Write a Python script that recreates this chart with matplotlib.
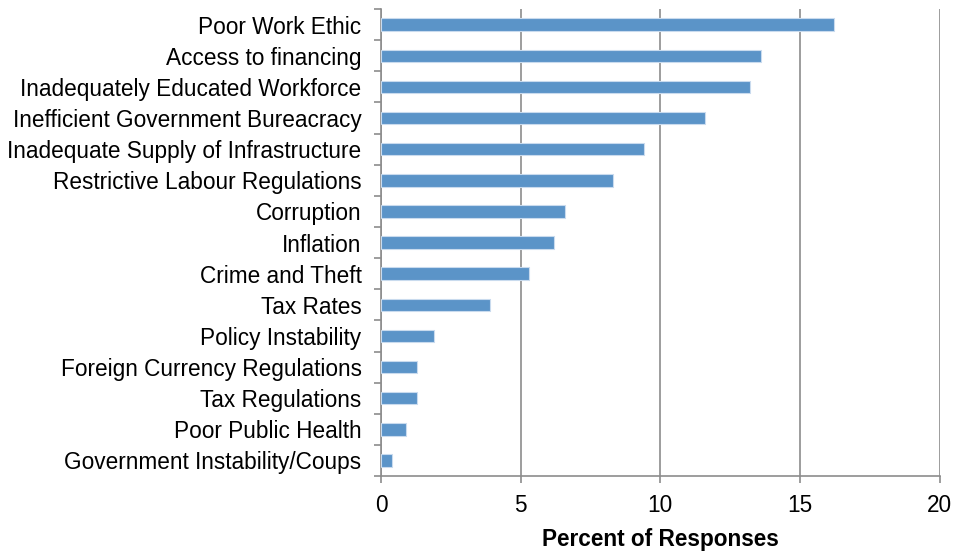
import numpy as np
import matplotlib.pyplot as plt
plt.rcParams['font.family'] = ['Liberation Sans', 'DejaVu Sans']
plt.rcParams['font.size'] = 16.3

factors = ['Poor Work Ethic', 'Access to financing', 'Inadequately Educated Workforce',
           'Inefficient Government Bureacracy', 'Inadequate Supply of Infrastructure',
           'Restrictive Labour Regulations', 'Corruption', 'Inflation', 'Crime and Theft',
           'Tax Rates', 'Policy Instability', 'Foreign Currency Regulations',
           'Tax Regulations', 'Poor Public Health', 'Government Instability/Coups']
percent = [16.2, 13.6, 13.2, 11.6, 9.4, 8.3, 6.6, 6.2, 5.3, 3.9, 1.9, 1.3, 1.3, 0.9, 0.4]

fig = plt.figure(figsize=(9.56, 5.51), dpi=100)
ax = fig.add_axes([0.3985, 0.136, 0.5845, 0.8475])
y = np.arange(len(factors))
ax.barh(y, percent, height=0.4, color='#5B94C8', edgecolor='#C9DBEE', linewidth=0.8, zorder=3)
ax.set_ylim(len(factors) - 0.5, -0.5)
ax.set_xlim(0, 20)
ax.set_xticks([0, 5, 10, 15, 20])
ax.set_yticks(y)
ax.set_yticklabels(factors)
ax.set_yticks(np.arange(len(factors) + 1) - 0.5, minor=True)
ax.tick_params(axis='y', which='major', length=0, pad=14)
ax.tick_params(axis='y', which='minor', length=5, width=1.2, color='#8C8C8C')
ax.tick_params(axis='x', length=5, width=1.2, color='#8C8C8C', pad=8)
ax.grid(axis='x', color='#8C8C8C', linewidth=1.2, zorder=0)
for s in ['top', 'right']:
    ax.spines[s].set_visible(False)
for s in ['left', 'bottom']:
    ax.spines[s].set_color('#8C8C8C')
    ax.spines[s].set_linewidth(1.2)
ax.set_xlabel('Percent of Responses', fontweight='bold', labelpad=8)
plt.savefig('out.png', dpi=100)
